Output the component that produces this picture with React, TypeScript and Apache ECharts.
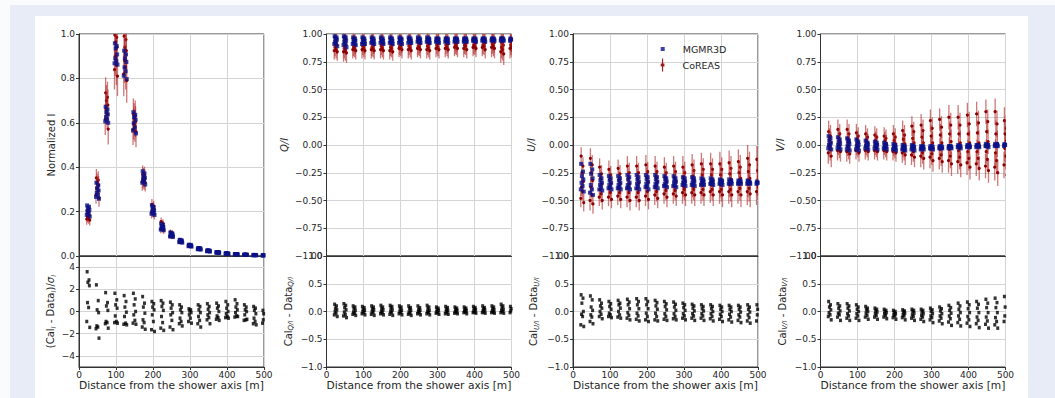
import React, { useEffect, useRef } from 'react';
import * as echarts from 'echarts';

// ---------------- data ----------------
const distances = [25, 50, 75, 100, 125, 150, 175, 200, 225, 250, 275, 300, 325, 350, 375, 400, 425, 450, 475, 500];
// small radial offsets of the 8 antennas of each ring (m)
const antennaShift = [-3, 2, -1, 3, -2, 1, -4, 4];

const mgI = [
  [0.228, 0.222, 0.215, 0.208, 0.2, 0.193, 0.185, 0.178],
  [0.33, 0.318, 0.305, 0.295, 0.285, 0.275, 0.266, 0.258],
  [0.672, 0.66, 0.648, 0.638, 0.626, 0.615, 0.606, 0.6],
  [0.958, 0.946, 0.935, 0.908, 0.89, 0.877, 0.868, 0.862],
  [0.925, 0.908, 0.89, 0.874, 0.85, 0.832, 0.812, 0.797],
  [0.648, 0.636, 0.626, 0.614, 0.598, 0.578, 0.565, 0.552],
  [0.382, 0.372, 0.362, 0.352, 0.345, 0.338, 0.33, 0.322],
  [0.228, 0.22, 0.212, 0.205, 0.2, 0.195, 0.19, 0.185],
  [0.146, 0.14, 0.135, 0.13, 0.126, 0.122, 0.119, 0.116],
  [0.106, 0.102, 0.099, 0.096, 0.093, 0.09, 0.088, 0.086],
  [0.073, 0.071, 0.069, 0.067, 0.065, 0.063, 0.062, 0.06],
  [0.051, 0.05, 0.048, 0.047, 0.046, 0.045, 0.044, 0.042],
  [0.036, 0.035, 0.034, 0.033, 0.032, 0.031, 0.03, 0.029],
  [0.026, 0.025, 0.024, 0.023, 0.023, 0.022, 0.021, 0.02],
  [0.018, 0.018, 0.017, 0.016, 0.016, 0.015, 0.015, 0.014],
  [0.013, 0.012, 0.012, 0.011, 0.011, 0.01, 0.01, 0.009],
  [0.009, 0.009, 0.008, 0.008, 0.008, 0.007, 0.007, 0.007],
  [0.007, 0.006, 0.006, 0.006, 0.005, 0.005, 0.005, 0.005],
  [0.005, 0.005, 0.004, 0.004, 0.004, 0.004, 0.003, 0.003],
  [0.004, 0.004, 0.003, 0.003, 0.003, 0.003, 0.002, 0.002],
];
const coI = [
  [0.205, 0.198, 0.19, 0.183, 0.176, 0.17, 0.166, 0.162],
  [0.352, 0.342, 0.332, 0.32, 0.305, 0.29, 0.275, 0.262],
  [0.735, 0.715, 0.7, 0.68, 0.662, 0.64, 0.615, 0.572],
  [0.995, 0.985, 0.965, 0.94, 0.9, 0.86, 0.84, 0.81],
  [0.99, 0.975, 0.94, 0.925, 0.88, 0.85, 0.82, 0.79],
  [0.64, 0.63, 0.618, 0.605, 0.595, 0.585, 0.57, 0.56],
  [0.368, 0.362, 0.356, 0.35, 0.344, 0.338, 0.334, 0.33],
  [0.232, 0.224, 0.216, 0.209, 0.203, 0.198, 0.194, 0.19],
  [0.155, 0.148, 0.141, 0.134, 0.128, 0.124, 0.12, 0.117],
  [0.108, 0.104, 0.1, 0.096, 0.093, 0.091, 0.089, 0.087],
  [0.074, 0.072, 0.07, 0.067, 0.065, 0.063, 0.062, 0.061],
  [0.052, 0.05, 0.049, 0.047, 0.046, 0.045, 0.044, 0.043],
  [0.036, 0.035, 0.034, 0.033, 0.032, 0.031, 0.03, 0.029],
  [0.026, 0.025, 0.024, 0.023, 0.023, 0.022, 0.021, 0.02],
  [0.018, 0.018, 0.017, 0.016, 0.016, 0.015, 0.015, 0.014],
  [0.013, 0.012, 0.012, 0.011, 0.011, 0.01, 0.01, 0.009],
  [0.009, 0.009, 0.008, 0.008, 0.008, 0.007, 0.007, 0.007],
  [0.007, 0.006, 0.006, 0.006, 0.005, 0.005, 0.005, 0.005],
  [0.005, 0.005, 0.004, 0.004, 0.004, 0.004, 0.003, 0.003],
  [0.004, 0.004, 0.003, 0.003, 0.003, 0.003, 0.002, 0.002],
];
const errI = [0.025, 0.04, 0.07, 0.09, 0.1, 0.07, 0.04, 0.025, 0.018, 0.012, 0.008, 0.006, 0.004, 0.003, 0.002, 0.002, 0.001, 0.001, 0.001, 0.001];
const resI = [
  [3.58, 2.84, 2.63, 2.33, 0.8, 0.36, -0.9, -1.43],
  [2.4, 0.98, 0.15, -0.1, -1.3, -1.4, -1.55, -2.4],
  [1.7, 0.8, 0.5, 0.1, -0.9, -1.0, -1.1, -1.5],
  [1.64, 1.05, 0.6, 0.3, -0.4, -0.9, -1.0, -1.05],
  [1.43, 0.9, 0.4, -0.06, -0.45, -1.05, -1.15, -1.2],
  [1.64, 1.13, 0.6, 0.0, -0.3, -0.8, -1.05, -1.15],
  [1.34, 0.75, 0.4, -0.15, -0.75, -1.0, -1.4, -1.6],
  [0.9, 0.7, 0.4, 0.15, -0.3, -0.9, -1.64, -1.8],
  [0.98, 0.75, 0.45, 0.1, -0.45, -1.0, -1.5, -1.7],
  [0.84, 0.6, 0.3, -0.1, -0.3, -0.8, -1.4, -1.64],
  [0.6, 0.4, 0.15, -0.1, -0.6, -0.9, -1.1, -1.3],
  [0.24, 0.15, 0.05, -0.1, -0.3, -0.6, -0.9, -1.05],
  [0.6, 0.45, 0.15, -0.1, -0.45, -0.8, -1.1, -1.4],
  [0.7, 0.45, 0.2, -0.1, -0.3, -0.55, -0.75, -1.1],
  [0.75, 0.5, 0.3, 0.0, -0.4, -0.55, -0.7, -0.8],
  [0.9, 0.6, 0.3, 0.0, -0.2, -0.45, -0.55, -0.6],
  [1.05, 0.7, 0.4, 0.15, -0.1, -0.4, -0.5, -0.45],
  [0.6, 0.4, 0.15, 0.0, -0.3, -0.75, -0.8, -0.7],
  [0.45, 0.3, 0.1, -0.2, -0.6, -0.9, -1.1, -1.2],
  [0.1, 0.0, -0.2, -0.5, -0.75, -0.9, -1.05, -1.0],
];

const mgQ = [
  [0.98, 0.97, 0.96, 0.95, 0.93, 0.92, 0.91, 0.89],
  [0.98, 0.97, 0.96, 0.94, 0.93, 0.91, 0.9, 0.88],
  [0.97, 0.96, 0.95, 0.94, 0.93, 0.92, 0.91, 0.9],
  [0.97, 0.96, 0.95, 0.94, 0.93, 0.92, 0.91, 0.91],
  [0.97, 0.96, 0.95, 0.94, 0.93, 0.92, 0.92, 0.91],
  [0.97, 0.96, 0.95, 0.94, 0.94, 0.93, 0.92, 0.91],
  [0.97, 0.96, 0.95, 0.94, 0.94, 0.93, 0.92, 0.91],
  [0.97, 0.96, 0.95, 0.95, 0.94, 0.93, 0.92, 0.91],
  [0.97, 0.96, 0.95, 0.94, 0.94, 0.93, 0.92, 0.92],
  [0.97, 0.96, 0.95, 0.95, 0.94, 0.93, 0.93, 0.92],
  [0.97, 0.96, 0.95, 0.95, 0.94, 0.93, 0.93, 0.92],
  [0.96, 0.96, 0.95, 0.95, 0.94, 0.93, 0.93, 0.92],
  [0.96, 0.96, 0.95, 0.95, 0.94, 0.94, 0.93, 0.92],
  [0.96, 0.96, 0.95, 0.95, 0.94, 0.94, 0.93, 0.93],
  [0.96, 0.96, 0.95, 0.95, 0.94, 0.94, 0.93, 0.93],
  [0.96, 0.96, 0.95, 0.95, 0.94, 0.94, 0.94, 0.93],
  [0.96, 0.96, 0.95, 0.95, 0.95, 0.94, 0.94, 0.93],
  [0.96, 0.96, 0.95, 0.95, 0.95, 0.94, 0.94, 0.94],
  [0.96, 0.96, 0.96, 0.95, 0.95, 0.94, 0.94, 0.94],
  [0.96, 0.96, 0.95, 0.95, 0.95, 0.94, 0.94, 0.94],
];
const coQ = [
  [0.97, 0.95, 0.92, 0.9, 0.88, 0.86, 0.85, 0.84],
  [0.97, 0.95, 0.93, 0.9, 0.87, 0.85, 0.84, 0.83],
  [0.96, 0.94, 0.92, 0.9, 0.88, 0.87, 0.86, 0.85],
  [0.96, 0.94, 0.92, 0.9, 0.89, 0.87, 0.86, 0.85],
  [0.96, 0.94, 0.92, 0.9, 0.88, 0.87, 0.86, 0.85],
  [0.96, 0.94, 0.93, 0.91, 0.89, 0.87, 0.86, 0.85],
  [0.96, 0.94, 0.92, 0.9, 0.88, 0.87, 0.85, 0.84],
  [0.96, 0.95, 0.93, 0.91, 0.89, 0.88, 0.87, 0.86],
  [0.96, 0.94, 0.93, 0.91, 0.89, 0.87, 0.86, 0.85],
  [0.96, 0.95, 0.93, 0.91, 0.89, 0.88, 0.87, 0.86],
  [0.96, 0.94, 0.93, 0.91, 0.89, 0.87, 0.86, 0.85],
  [0.96, 0.95, 0.93, 0.92, 0.9, 0.88, 0.87, 0.86],
  [0.96, 0.95, 0.93, 0.91, 0.9, 0.88, 0.87, 0.86],
  [0.96, 0.95, 0.93, 0.92, 0.9, 0.89, 0.88, 0.87],
  [0.96, 0.95, 0.93, 0.92, 0.9, 0.89, 0.87, 0.86],
  [0.96, 0.95, 0.94, 0.92, 0.9, 0.89, 0.88, 0.87],
  [0.96, 0.95, 0.93, 0.92, 0.9, 0.89, 0.88, 0.86],
  [0.96, 0.95, 0.94, 0.92, 0.91, 0.89, 0.88, 0.87],
  [0.96, 0.94, 0.92, 0.9, 0.88, 0.86, 0.84, 0.82],
  [0.96, 0.95, 0.93, 0.92, 0.9, 0.88, 0.87, 0.85],
];
const errQ = [0.08, 0.09, 0.08, 0.08, 0.08, 0.08, 0.08, 0.08, 0.08, 0.08, 0.08, 0.08, 0.08, 0.08, 0.08, 0.08, 0.08, 0.09, 0.1, 0.09];
const resQ = [
  [0.13, 0.1, 0.06, 0.03, 0.0, -0.03, -0.06, -0.09],
  [0.14, 0.11, 0.07, 0.03, -0.01, -0.05, -0.08, -0.11],
  [0.1, 0.08, 0.05, 0.02, -0.01, -0.03, -0.05, -0.07],
  [0.09, 0.07, 0.04, 0.02, 0.0, -0.02, -0.04, -0.06],
  [0.1, 0.08, 0.05, 0.03, 0.0, -0.02, -0.05, -0.07],
  [0.11, 0.08, 0.05, 0.03, 0.0, -0.02, -0.04, -0.06],
  [0.11, 0.09, 0.06, 0.03, 0.0, -0.02, -0.05, -0.07],
  [0.1, 0.08, 0.05, 0.02, 0.0, -0.02, -0.04, -0.06],
  [0.1, 0.07, 0.05, 0.02, -0.01, -0.03, -0.05, -0.07],
  [0.1, 0.07, 0.04, 0.02, 0.0, -0.02, -0.04, -0.06],
  [0.11, 0.08, 0.05, 0.02, 0.0, -0.02, -0.04, -0.06],
  [0.08, 0.06, 0.04, 0.02, 0.0, -0.02, -0.03, -0.05],
  [0.09, 0.07, 0.04, 0.02, 0.0, -0.02, -0.04, -0.05],
  [0.08, 0.06, 0.04, 0.02, 0.0, -0.01, -0.03, -0.04],
  [0.08, 0.06, 0.04, 0.02, 0.01, -0.01, -0.02, -0.04],
  [0.09, 0.07, 0.05, 0.03, 0.01, -0.01, -0.02, -0.03],
  [0.1, 0.07, 0.05, 0.03, 0.01, -0.01, -0.02, -0.03],
  [0.1, 0.08, 0.05, 0.03, 0.01, -0.01, -0.02, -0.03],
  [0.13, 0.1, 0.07, 0.04, 0.02, 0.0, -0.02, -0.03],
  [0.09, 0.07, 0.05, 0.03, 0.01, 0.0, -0.02, -0.03],
];

const mgU = [
  [-0.17, -0.24, -0.28, -0.31, -0.34, -0.37, -0.4, -0.42],
  [-0.17, -0.22, -0.26, -0.3, -0.36, -0.4, -0.43, -0.45],
  [-0.27, -0.3, -0.32, -0.34, -0.36, -0.38, -0.4, -0.41],
  [-0.28, -0.3, -0.32, -0.34, -0.36, -0.38, -0.39, -0.4],
  [-0.28, -0.3, -0.32, -0.34, -0.36, -0.38, -0.39, -0.4],
  [-0.27, -0.29, -0.31, -0.34, -0.36, -0.38, -0.39, -0.4],
  [-0.27, -0.29, -0.31, -0.33, -0.35, -0.37, -0.39, -0.4],
  [-0.27, -0.29, -0.31, -0.33, -0.35, -0.37, -0.38, -0.4],
  [-0.27, -0.29, -0.31, -0.33, -0.35, -0.36, -0.38, -0.39],
  [-0.28, -0.3, -0.31, -0.33, -0.35, -0.36, -0.37, -0.38],
  [-0.28, -0.3, -0.31, -0.33, -0.34, -0.36, -0.37, -0.38],
  [-0.29, -0.3, -0.32, -0.33, -0.34, -0.35, -0.36, -0.37],
  [-0.29, -0.3, -0.31, -0.33, -0.34, -0.35, -0.36, -0.37],
  [-0.3, -0.31, -0.32, -0.33, -0.34, -0.35, -0.36, -0.36],
  [-0.3, -0.31, -0.32, -0.33, -0.34, -0.35, -0.35, -0.36],
  [-0.31, -0.32, -0.32, -0.33, -0.34, -0.34, -0.35, -0.36],
  [-0.31, -0.32, -0.33, -0.33, -0.34, -0.34, -0.35, -0.35],
  [-0.32, -0.32, -0.33, -0.33, -0.34, -0.34, -0.35, -0.35],
  [-0.32, -0.33, -0.33, -0.34, -0.34, -0.34, -0.35, -0.35],
  [-0.33, -0.33, -0.34, -0.34, -0.34, -0.35, -0.35, -0.35],
];
const coU = [
  [-0.1, -0.19, -0.25, -0.33, -0.38, -0.42, -0.48, -0.52],
  [-0.12, -0.18, -0.25, -0.32, -0.38, -0.45, -0.5, -0.53],
  [-0.2, -0.26, -0.3, -0.35, -0.4, -0.44, -0.47, -0.5],
  [-0.22, -0.27, -0.31, -0.35, -0.39, -0.43, -0.47, -0.49],
  [-0.21, -0.26, -0.31, -0.35, -0.39, -0.43, -0.46, -0.49],
  [-0.19, -0.25, -0.3, -0.35, -0.39, -0.43, -0.47, -0.5],
  [-0.19, -0.25, -0.3, -0.34, -0.39, -0.43, -0.47, -0.5],
  [-0.18, -0.24, -0.29, -0.34, -0.38, -0.42, -0.46, -0.49],
  [-0.19, -0.24, -0.29, -0.33, -0.38, -0.42, -0.45, -0.48],
  [-0.2, -0.25, -0.29, -0.33, -0.37, -0.41, -0.44, -0.47],
  [-0.19, -0.24, -0.29, -0.33, -0.37, -0.41, -0.44, -0.46],
  [-0.2, -0.25, -0.29, -0.33, -0.37, -0.4, -0.43, -0.45],
  [-0.18, -0.23, -0.28, -0.32, -0.37, -0.4, -0.43, -0.45],
  [-0.17, -0.22, -0.27, -0.32, -0.36, -0.4, -0.43, -0.45],
  [-0.17, -0.22, -0.27, -0.32, -0.36, -0.4, -0.42, -0.45],
  [-0.17, -0.22, -0.27, -0.32, -0.36, -0.4, -0.42, -0.45],
  [-0.16, -0.21, -0.26, -0.31, -0.36, -0.4, -0.42, -0.45],
  [-0.15, -0.2, -0.25, -0.3, -0.35, -0.39, -0.42, -0.45],
  [-0.12, -0.18, -0.24, -0.3, -0.35, -0.39, -0.42, -0.44],
  [-0.13, -0.18, -0.23, -0.29, -0.34, -0.38, -0.42, -0.45],
];
const errU = [0.08, 0.09, 0.08, 0.08, 0.08, 0.09, 0.09, 0.09, 0.09, 0.09, 0.09, 0.1, 0.1, 0.1, 0.1, 0.11, 0.11, 0.11, 0.12, 0.12];
const resU = [
  [0.3, 0.24, 0.15, 0.0, -0.05, -0.09, -0.24, -0.27],
  [0.28, 0.21, 0.08, 0.02, -0.06, -0.1, -0.18, -0.22],
  [0.21, 0.15, 0.1, 0.06, 0.0, -0.05, -0.09, -0.13],
  [0.18, 0.14, 0.09, 0.04, -0.03, -0.06, -0.09, -0.11],
  [0.2, 0.15, 0.12, 0.06, 0.0, -0.06, -0.1, -0.12],
  [0.22, 0.17, 0.12, 0.05, -0.02, -0.07, -0.12, -0.15],
  [0.23, 0.18, 0.12, 0.05, -0.03, -0.08, -0.14, -0.17],
  [0.23, 0.18, 0.12, 0.05, -0.03, -0.09, -0.15, -0.18],
  [0.2, 0.16, 0.1, 0.04, -0.03, -0.09, -0.15, -0.17],
  [0.18, 0.14, 0.09, 0.03, -0.04, -0.09, -0.14, -0.16],
  [0.17, 0.13, 0.08, 0.02, -0.04, -0.09, -0.13, -0.15],
  [0.15, 0.12, 0.07, 0.02, -0.04, -0.08, -0.12, -0.15],
  [0.13, 0.1, 0.06, 0.01, -0.04, -0.08, -0.12, -0.16],
  [0.12, 0.09, 0.05, 0.01, -0.04, -0.08, -0.12, -0.16],
  [0.12, 0.09, 0.05, 0.0, -0.04, -0.09, -0.13, -0.17],
  [0.11, 0.08, 0.04, 0.0, -0.05, -0.09, -0.14, -0.18],
  [0.11, 0.08, 0.04, 0.0, -0.05, -0.1, -0.15, -0.19],
  [0.11, 0.08, 0.04, -0.01, -0.06, -0.1, -0.16, -0.2],
  [0.12, 0.08, 0.04, -0.01, -0.06, -0.11, -0.17, -0.21],
  [0.12, 0.08, 0.04, -0.01, -0.06, -0.11, -0.17, -0.22],
];

const mgV = [
  [0.08, 0.06, 0.04, 0.02, 0.0, -0.01, -0.03, -0.04],
  [0.07, 0.05, 0.03, 0.01, 0.0, -0.02, -0.03, -0.04],
  [0.06, 0.04, 0.03, 0.01, -0.01, -0.02, -0.04, -0.05],
  [0.05, 0.03, 0.02, 0.0, -0.01, -0.02, -0.04, -0.05],
  [0.04, 0.02, 0.01, 0.0, -0.01, -0.02, -0.03, -0.04],
  [0.03, 0.02, 0.01, 0.0, -0.01, -0.02, -0.03, -0.04],
  [0.02, 0.01, 0.0, -0.01, -0.02, -0.03, -0.03, -0.04],
  [0.01, 0.0, -0.01, -0.02, -0.03, -0.03, -0.04, -0.05],
  [0.0, -0.01, -0.02, -0.02, -0.03, -0.04, -0.04, -0.05],
  [0.0, -0.01, -0.01, -0.02, -0.03, -0.03, -0.04, -0.05],
  [-0.01, -0.01, -0.02, -0.02, -0.03, -0.03, -0.04, -0.04],
  [-0.01, -0.01, -0.02, -0.02, -0.03, -0.03, -0.03, -0.04],
  [-0.01, -0.01, -0.02, -0.02, -0.02, -0.03, -0.03, -0.03],
  [-0.01, -0.01, -0.01, -0.02, -0.02, -0.02, -0.03, -0.03],
  [0.0, -0.01, -0.01, -0.01, -0.02, -0.02, -0.02, -0.03],
  [0.0, 0.0, -0.01, -0.01, -0.01, -0.02, -0.02, -0.02],
  [0.0, 0.0, 0.0, -0.01, -0.01, -0.01, -0.02, -0.02],
  [0.01, 0.0, 0.0, 0.0, -0.01, -0.01, -0.01, -0.02],
  [0.01, 0.01, 0.0, 0.0, 0.0, -0.01, -0.01, -0.01],
  [0.01, 0.0, 0.0, 0.0, 0.0, -0.01, -0.01, -0.01],
];
const coV = [
  [0.12, 0.08, 0.05, 0.02, -0.01, -0.04, -0.07, -0.1],
  [0.14, 0.1, 0.06, 0.03, 0.0, -0.03, -0.05, -0.06],
  [0.14, 0.1, 0.06, 0.02, -0.01, -0.04, -0.06, -0.08],
  [0.11, 0.08, 0.05, 0.02, -0.01, -0.03, -0.05, -0.07],
  [0.1, 0.07, 0.04, 0.02, -0.01, -0.03, -0.05, -0.06],
  [0.09, 0.07, 0.04, 0.01, -0.01, -0.03, -0.05, -0.06],
  [0.08, 0.06, 0.04, 0.01, -0.01, -0.03, -0.05, -0.06],
  [0.1, 0.07, 0.04, 0.01, -0.02, -0.04, -0.06, -0.07],
  [0.13, 0.09, 0.05, 0.01, -0.02, -0.05, -0.07, -0.09],
  [0.17, 0.12, 0.06, 0.02, -0.02, -0.06, -0.09, -0.11],
  [0.18, 0.13, 0.07, 0.02, -0.03, -0.07, -0.1, -0.12],
  [0.22, 0.15, 0.08, 0.02, -0.04, -0.08, -0.11, -0.14],
  [0.23, 0.16, 0.09, 0.02, -0.04, -0.09, -0.12, -0.15],
  [0.25, 0.18, 0.1, 0.03, -0.04, -0.1, -0.14, -0.17],
  [0.25, 0.18, 0.1, 0.02, -0.05, -0.11, -0.15, -0.18],
  [0.27, 0.19, 0.1, 0.02, -0.06, -0.12, -0.16, -0.2],
  [0.28, 0.2, 0.11, 0.02, -0.06, -0.12, -0.17, -0.21],
  [0.3, 0.21, 0.12, 0.03, -0.06, -0.13, -0.19, -0.23],
  [0.3, 0.19, 0.1, 0.01, -0.07, -0.14, -0.2, -0.25],
  [0.22, 0.15, 0.1, 0.04, -0.03, -0.1, -0.18, -0.27],
];
const errV = [0.1, 0.09, 0.09, 0.08, 0.08, 0.08, 0.08, 0.08, 0.09, 0.09, 0.1, 0.1, 0.1, 0.11, 0.11, 0.11, 0.11, 0.11, 0.12, 0.12];
const resV = [
  [0.18, 0.12, 0.08, 0.03, -0.02, -0.06, -0.09, -0.15],
  [0.14, 0.1, 0.06, 0.01, -0.03, -0.06, -0.1, -0.16],
  [0.14, 0.1, 0.06, 0.01, -0.04, -0.08, -0.12, -0.16],
  [0.12, 0.08, 0.04, 0.0, -0.04, -0.08, -0.12, -0.16],
  [0.09, 0.06, 0.03, 0.0, -0.03, -0.07, -0.1, -0.14],
  [0.06, 0.04, 0.01, -0.01, -0.04, -0.07, -0.1, -0.14],
  [0.04, 0.02, 0.0, -0.02, -0.04, -0.07, -0.1, -0.13],
  [0.02, 0.0, -0.02, -0.04, -0.06, -0.08, -0.11, -0.14],
  [0.03, 0.01, -0.01, -0.03, -0.06, -0.08, -0.11, -0.15],
  [0.04, 0.02, 0.0, -0.03, -0.06, -0.09, -0.12, -0.16],
  [0.04, 0.02, -0.01, -0.04, -0.07, -0.1, -0.14, -0.18],
  [0.06, 0.03, 0.0, -0.04, -0.08, -0.11, -0.15, -0.2],
  [0.08, 0.05, 0.01, -0.04, -0.08, -0.12, -0.17, -0.22],
  [0.11, 0.07, 0.02, -0.03, -0.08, -0.13, -0.19, -0.25],
  [0.15, 0.1, 0.04, -0.02, -0.08, -0.14, -0.2, -0.26],
  [0.17, 0.12, 0.05, -0.02, -0.09, -0.15, -0.21, -0.27],
  [0.18, 0.13, 0.06, -0.02, -0.1, -0.16, -0.22, -0.29],
  [0.22, 0.15, 0.07, -0.02, -0.1, -0.17, -0.23, -0.3],
  [0.24, 0.16, 0.07, -0.02, -0.11, -0.18, -0.24, -0.3],
  [0.27, 0.18, 0.08, -0.01, -0.08, -0.13, -0.18, -0.22],
];

const xTicks = [0, 100, 200, 300, 400, 500];
const resITicks = [-4, -2, 0, 2, 4];

// ---------------- styling ----------------
const FONT = 'DejaVu Sans';
const TXT = '#262626';
const FRAME = '#333333';
const GRIDC = '#d4d4d4';
const BLUE = '#0a1288';
const RED = '#8b0000';
const REDBAR = 'rgba(175,30,30,0.6)';

const lefts = [79, 326.5, 573, 820.5];
const PW = 185;

const um = (s: string) => s.replace('-', '\u2212');

function pts(rows: number[][]) {
  const out: number[][] = [];
  rows.forEach((row, i) => row.forEach((v, j) => out.push([distances[i] + antennaShift[j], v])));
  return out;
}
function ptsErr(rows: number[][], errs: number[]) {
  const out: number[][] = [];
  rows.forEach((row, i) => row.forEach((v, j) => out.push([distances[i] + antennaShift[j], v, errs[i]])));
  return out;
}

export default function App() {
  const ref = useRef<HTMLDivElement>(null);
  useEffect(() => {
    const chart = echarts.init(ref.current!, null, { renderer: 'svg' });

    const nameStyle = (extra: any = {}) => ({
      fontFamily: FONT,
      fontSize: 10,
      color: TXT,
      rich: {
        n: { fontFamily: FONT, fontSize: 10, lineHeight: 13, color: TXT },
        i: { fontFamily: FONT, fontSize: 10, lineHeight: 13, color: TXT, fontStyle: 'italic' },
        s: { fontFamily: FONT, fontSize: 7, lineHeight: 7, color: TXT, fontStyle: 'italic', verticalAlign: 'bottom' },
      },
      ...extra,
    });

    const grids: any[] = [];
    const xAxes: any[] = [];
    const yAxes: any[] = [];
    for (let k = 0; k < 4; k++) {
      grids.push({ left: lefts[k], top: 34, width: PW, height: 222, show: true, borderColor: FRAME, borderWidth: 1, backgroundColor: 'transparent', containLabel: false, outerBoundsMode: 'none' });
    }
    for (let k = 0; k < 4; k++) {
      grids.push({ left: lefts[k], top: 256, width: PW, height: 111, show: true, borderColor: FRAME, borderWidth: 1, backgroundColor: 'transparent', containLabel: false, outerBoundsMode: 'none' });
    }
    const baseAxis = {
      axisLine: { show: true, onZero: false, lineStyle: { color: FRAME, width: 1 } },
      splitLine: { show: true, lineStyle: { color: GRIDC, width: 1 } },
      axisTick: { show: true, inside: false, length: 3, lineStyle: { color: FRAME } },
    };
    for (let k = 0; k < 8; k++) {
      const bottom = k >= 4;
      xAxes.push({
        ...baseAxis,
        type: 'value',
        gridIndex: k,
        min: xTicks[0],
        max: xTicks[xTicks.length - 1],
        interval: 100,
        axisTick: bottom ? baseAxis.axisTick : { show: false },
        axisLabel: bottom
          ? { show: true, fontFamily: FONT, fontSize: 9, color: TXT, margin: 3 }
          : { show: false },
        name: bottom ? 'Distance from the shower axis [m]' : '',
        nameLocation: 'middle',
        nameGap: 13,
        nameTextStyle: { fontFamily: FONT, fontSize: 10.7, color: TXT },
      });
    }
    const labelBase = { fontFamily: FONT, fontSize: 9, color: TXT, margin: 4 };
    // top panels
    yAxes.push({
      ...baseAxis, type: 'value', gridIndex: 0, min: 0, max: 1, interval: 0.2,
      axisLabel: { ...labelBase, formatter: (v: number) => um(v.toFixed(1)) },
      name: 'Normalized I', nameLocation: 'middle', nameGap: 21, nameTextStyle: nameStyle(),
    });
    const topNames = ['{i|Q/I}', '{i|U/I}', '{i|V/I}'];
    const topGaps = [36, 35, 34];
    for (let k = 1; k < 4; k++) {
      yAxes.push({
        ...baseAxis, type: 'value', gridIndex: k, min: -1, max: 1, interval: 0.25,
        axisLabel: { ...labelBase, formatter: (v: number) => um(v.toFixed(2)) },
        name: topNames[k - 1], nameLocation: 'middle', nameGap: topGaps[k - 1], nameTextStyle: nameStyle(),
      });
    }
    // residual panels
    yAxes.push({
      ...baseAxis, type: 'value', gridIndex: 4, min: -5, max: 5, interval: 1,
      axisTick: { ...baseAxis.axisTick, customValues: resITicks },
      axisLabel: { ...labelBase, customValues: resITicks, formatter: (v: number) => um(String(Math.round(v))) },
      name: '{n|(Cal}{s|I}{n| - Data}{s|I}{n|)/}{i|σ}{s|I}', nameLocation: 'middle', nameGap: 22, nameTextStyle: nameStyle(),
    });
    const subs = ['Q/I', 'U/I', 'V/I'];
    const botGaps = [32, 33, 32];
    for (let k = 1; k < 4; k++) {
      yAxes.push({
        ...baseAxis, type: 'value', gridIndex: 4 + k, min: -1, max: 1, interval: 0.5,
        axisLabel: { ...labelBase, formatter: (v: number) => um(v.toFixed(1)) },
        name: `{n|Cal}{s|${subs[k - 1]}}{n| - Data}{s|${subs[k - 1]}}`, nameLocation: 'middle', nameGap: botGaps[k - 1], nameTextStyle: nameStyle(),
      });
    }

    const mg = [mgI, mgQ, mgU, mgV];
    const co = [coI, coQ, coU, coV];
    const er = [errI, errQ, errU, errV];
    const rs = [resI, resQ, resU, resV];

    const series: any[] = [];
    for (let k = 0; k < 4; k++) {
      series.push({
        type: 'custom',
        name: 'CoREAS',
        xAxisIndex: k,
        yAxisIndex: k,
        clip: true,
        encode: { x: 0, y: 1 },
        data: ptsErr(co[k], er[k]),
        renderItem: (params: any, api: any) => {
          const x = api.value(0);
          const y = api.value(1);
          const e = api.value(2);
          const p = api.coord([x, y]);
          const lo = api.coord([x, y - e]);
          const hi = api.coord([x, y + e]);
          return {
            type: 'group',
            children: [
              { type: 'line', shape: { x1: p[0], y1: lo[1], x2: p[0], y2: hi[1] }, style: { stroke: REDBAR, lineWidth: 1.3 } },
              { type: 'circle', shape: { cx: p[0], cy: p[1], r: 1.6 }, style: { fill: RED } },
            ],
          };
        },
      });
      series.push({
        type: 'scatter',
        name: 'MGMR3D',
        xAxisIndex: k,
        yAxisIndex: k,
        symbol: 'rect',
        symbolSize: 4,
        itemStyle: { color: BLUE },
        data: pts(mg[k]),
        z: 3,
      });
      series.push({
        type: 'scatter',
        name: 'residual',
        xAxisIndex: 4 + k,
        yAxisIndex: 4 + k,
        symbol: 'rect',
        symbolSize: [3, 3.5],
        itemStyle: { color: '#000' },
        data: pts(rs[k]),
      });
    }

    const option: any = {
      animation: false,
      backgroundColor: 'transparent',
      textStyle: { fontFamily: FONT },
      grid: grids,
      xAxis: xAxes,
      yAxis: yAxes,
      legend: [
        {
          left: 660.7, top: 44, padding: 0, orient: 'vertical', selectedMode: false,
          itemWidth: 30, itemHeight: 4, itemGap: 0,
          textStyle: { fontFamily: FONT, fontSize: 9.5, color: TXT },
          data: [{ name: 'MGMR3D', icon: 'path://M0,0H10V10H0Z', itemStyle: { color: BLUE } }],
        },
        {
          left: 660.7, top: 58.5, padding: 0, orient: 'vertical', selectedMode: false,
          itemWidth: 30, itemHeight: 13, itemGap: 0,
          textStyle: { fontFamily: FONT, fontSize: 9.5, color: TXT },
          data: [{ name: 'CoREAS', icon: 'path://M2.4,0H3.6V14H2.4Z M1,5.5H5V8.5H1Z', itemStyle: { color: '#a11c1c' } }],
        },
      ],
      series,
    };
    chart.setOption(option);
    return () => chart.dispose();
  }, []);

  return (
    <div style={{ position: 'fixed', left: 0, top: 0, width: 1055, height: 398, background: '#fafbfd', overflow: 'hidden' }}>
      <div style={{ position: 'absolute', left: 10, top: 5, width: 1045, height: 393, background: '#e8ecf7' }} />
      <div style={{ position: 'absolute', left: 35, top: 16, width: 993, height: 382, background: '#ffffff' }} />
      <div ref={ref} style={{ position: 'absolute', left: 0, top: 0, width: 1055, height: 398 }} />
    </div>
  );
}
